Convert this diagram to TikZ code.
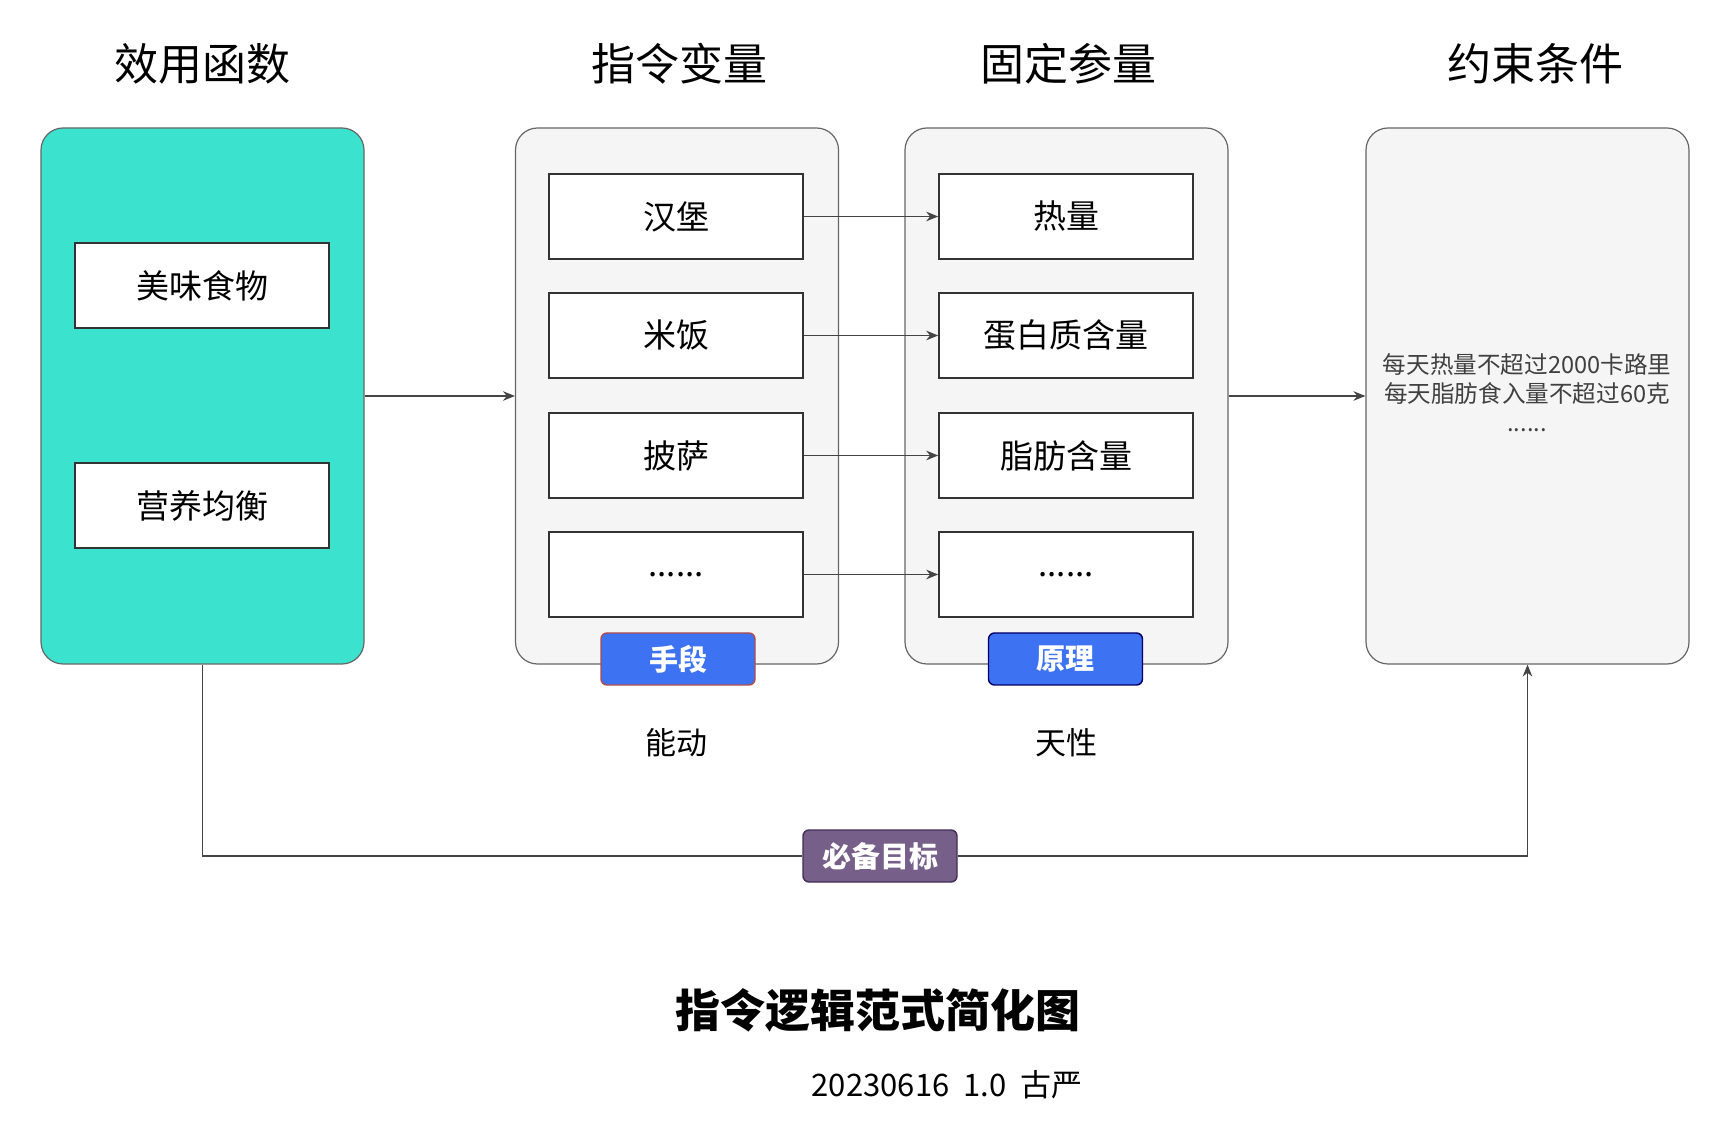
\documentclass[tikz,border=0pt]{standalone}
\usepackage{fontspec}
\setmainfont{Noto Sans CJK SC}
\usetikzlibrary{arrows.meta}
\definecolor{teal1}{HTML}{3BE3CF}
\definecolor{cont}{HTML}{F5F5F5}
\definecolor{contb}{HTML}{666666}
\definecolor{badgeblue}{HTML}{3D72F2}
\definecolor{purp}{HTML}{76608A}
\definecolor{purpb}{HTML}{432D57}
\definecolor{linec}{HTML}{444444}
\tikzset{
  container/.style={draw=contb, line width=0.6pt, rounded corners=11pt, minimum width=161.5pt, minimum height=268pt, inner sep=0pt},
  itembox/.style={draw=black!80, fill=white, line width=0.8pt, minimum width=127pt, minimum height=42.5pt, inner sep=0pt, font=\fontsize{16.5}{20}\selectfont},
  coltitle/.style={font=\fontsize{22}{26}\selectfont},
  badge/.style={fill=badgeblue, rounded corners=3pt, line width=0.7pt, minimum width=77pt, minimum height=26pt, inner sep=0pt, text=white, font=\bfseries\fontsize{14.5}{17}\selectfont},
  lbl/.style={font=\fontsize{15.5}{18}\selectfont},
  conn/.style={draw=linec, line width=0.65pt},
  arr/.style={conn, -{Stealth[length=6pt,width=4.8pt]}}
}
\begin{document}
\begin{tikzpicture}[x=0.5pt,y=-0.5pt]
\useasboundingbox[fill=white] (0,0) rectangle (1730,1122);
% titles
\node[coltitle] (t1) at (202,64) {效用函数};
\node[coltitle] (t2) at (679,64) {指令变量};
\node[coltitle] (t3) at (1068,64) {固定参量};
\node[coltitle] (t4) at (1535,64) {约束条件};
% containers
\node[container, fill=teal1] (c1) at (202.5,396) {};
\node[container, fill=cont] (c2) at (677,396) {};
\node[container, fill=cont] (c3) at (1066.5,396) {};
\node[container, fill=cont] (c4) at (1527.5,396) {};
% utility items
\node[itembox] (u1) at (202,285.5) {美味食物};
\node[itembox] (u2) at (202,505.5) {营养均衡};
% variables
\node[itembox] (v1) at (676,216.5) {汉堡};
\node[itembox] (v2) at (676,335.5) {米饭};
\node[itembox] (v3) at (676,455.5) {披萨};
\node[itembox] (v4) at (676,574.5) {......};
% parameters
\node[itembox] (p1) at (1066,216.5) {热量};
\node[itembox] (p2) at (1066,335.5) {蛋白质含量};
\node[itembox] (p3) at (1066,455.5) {脂肪含量};
\node[itembox] (p4) at (1066,574.5) {......};
% constraints text
\node[align=center, text=black!75, font=\fontsize{11.8}{14.5}\selectfont] (ct) at (1527,393) {每天热量不超过2000卡路里\\每天脂肪食入量不超过60克\\......};
% arrows
\draw[arr] (c1.east) -- (c2.west);
\draw[arr] (c3.east) -- (c4.west);
\draw[arr] (v1.east) -- (p1.west);
\draw[arr] (v2.east) -- (p2.west);
\draw[arr] (v3.east) -- (p3.west);
\draw[arr] (v4.east) -- (p4.west);
% badges
\node[badge, draw=red!55!black!70] (b1) at (678,659) {手段};
\node[badge, draw=blue!40!black] (b2) at (1065.5,659) {原理};
\node[lbl] (l1) at (676,743) {能动};
\node[lbl] (l2) at (1066,743) {天性};
% goal path
\node[badge, fill=purp, draw=purpb] (g) at (880,856) {必备目标};
\draw[conn] (c1.south) |- (g.west);
\draw[arr] (g.east) -| (c4.south);
% footer
\node[font=\bfseries\fontsize{22.5}{26}\selectfont] (title) at (878,1010) {指令逻辑范式简化图};
\node[font=\fontsize{15.5}{18}\selectfont] (sub) at (947,1085) {20230616\ \ 1.0\ \ 古严};
\end{tikzpicture}
\end{document}
